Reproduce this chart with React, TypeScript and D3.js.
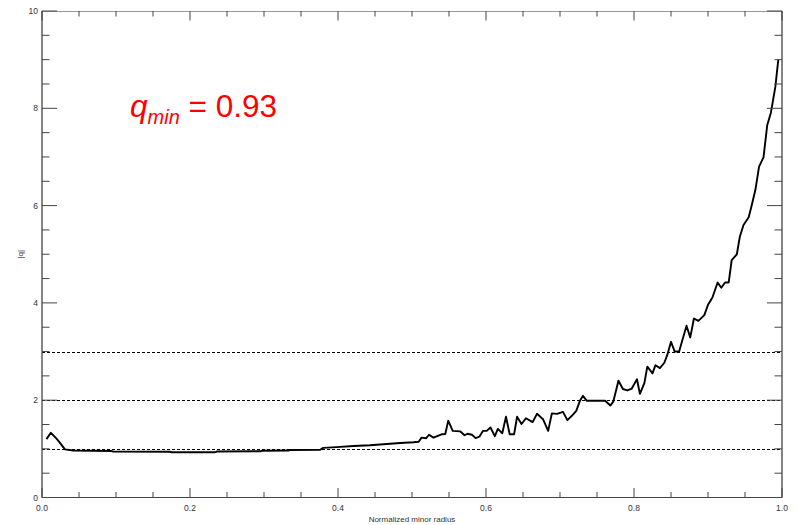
import React from "react";
import * as d3 from "d3";

// Safety factor profile |q| against normalized minor radius
const radius: number[] = [
  0.006, 0.012, 0.019, 0.023, 0.031, 0.042, 0.094, 0.096, 0.173, 0.175,
  0.234, 0.236, 0.295, 0.297, 0.333, 0.335, 0.376, 0.38, 0.398, 0.421,
  0.443, 0.466, 0.484, 0.502, 0.509, 0.513, 0.519, 0.523, 0.529, 0.54,
  0.545, 0.549, 0.555, 0.565, 0.571, 0.575, 0.581, 0.586, 0.591, 0.596,
  0.601, 0.606, 0.612, 0.616, 0.622, 0.627, 0.632, 0.638, 0.642, 0.648,
  0.654, 0.663, 0.669, 0.677, 0.684, 0.689, 0.696, 0.704, 0.71, 0.716,
  0.722, 0.727, 0.731, 0.736, 0.761, 0.768, 0.772, 0.779, 0.785, 0.791,
  0.797, 0.804, 0.808, 0.814, 0.818, 0.825, 0.829, 0.835, 0.841, 0.845,
  0.85, 0.855, 0.861, 0.866, 0.871, 0.876, 0.881, 0.887, 0.895, 0.9,
  0.906, 0.913, 0.918, 0.923, 0.928, 0.932, 0.939, 0.943, 0.948, 0.955,
  0.959, 0.964, 0.969, 0.975, 0.98, 0.985, 0.991, 0.995,
];

const qValues: number[] = [
  1.2, 1.33, 1.22, 1.15, 0.99, 0.965, 0.955, 0.945, 0.94, 0.93,
  0.93, 0.945, 0.95, 0.96, 0.965, 0.975, 0.98, 1.02, 1.035, 1.06,
  1.075, 1.1, 1.12, 1.135, 1.147, 1.23, 1.217, 1.29, 1.23, 1.3,
  1.305, 1.58, 1.37, 1.36, 1.28, 1.31, 1.29, 1.22, 1.25, 1.37,
  1.37, 1.44, 1.26, 1.41, 1.32, 1.66, 1.3, 1.3, 1.66, 1.51,
  1.63, 1.55, 1.72, 1.61, 1.37, 1.73, 1.72, 1.76, 1.59, 1.68,
  1.78, 1.99, 2.09, 1.99, 1.99, 1.89, 1.97, 2.4, 2.23, 2.2,
  2.24, 2.43, 2.13, 2.35, 2.69, 2.55, 2.72, 2.66, 2.77, 2.93,
  3.2, 3.0, 3.0, 3.27, 3.53, 3.29, 3.68, 3.63, 3.75, 3.96,
  4.11, 4.42, 4.31, 4.42, 4.42, 4.88, 5.0, 5.36, 5.6, 5.76,
  6.0, 6.32, 6.8, 6.99, 7.65, 7.91, 8.44, 9.0,
];

const xMajorTicks: number[] = [0, 0.2, 0.4, 0.6, 0.8, 1.0];
const yMajorTicks: number[] = [0, 2, 4, 6, 8, 10];
const referenceLevels: number[] = [1, 2, 3];

const width = 796;
const height = 525;
const left = 42;
const right = 782;
const top = 11;
const bottom = 497.5;

export default function App() {
  const x = d3.scaleLinear().domain([0, 1]).range([left, right]);
  const y = d3.scaleLinear().domain([0, 10]).range([bottom, top]);

  const points: [number, number][] = radius.map((r, i) => [r, qValues[i]]);
  const line = d3
    .line<[number, number]>()
    .x((d) => x(d[0]))
    .y((d) => y(d[1]));

  const xMinor = d3.range(0, 1.0001, 0.05);
  const yMinor = d3.range(0, 10.0001, 0.5);
  const isMajorX = (v: number) => Math.abs(v / 0.2 - Math.round(v / 0.2)) < 1e-6;
  const isMajorY = (v: number) => Math.abs(v / 2 - Math.round(v / 2)) < 1e-6;

  const axisColor = "#444";
  const labelFont = "'Liberation Sans', Arial, sans-serif";

  return (
    <svg
      width={width}
      height={height}
      style={{ position: "absolute", left: 0, top: 0, background: "#fff" }}
    >
      <rect x={0} y={0} width={width} height={height} fill="#fff" />

      {/* reference levels q = 1, 2, 3 */}
      {referenceLevels.map((lv) => (
        <line
          key={`ref-${lv}`}
          x1={left}
          x2={right}
          y1={Math.round(y(lv)) + 0.5}
          y2={Math.round(y(lv)) + 0.5}
          stroke="#000"
          strokeWidth={1}
          strokeDasharray="3,2"
        />
      ))}

      {/* q profile */}
      <path
        d={line(points) ?? ""}
        fill="none"
        stroke="#000"
        strokeWidth={1.9}
        strokeLinejoin="round"
      />

      {/* frame */}
      <line x1={left} x2={right} y1={top + 0.5} y2={top + 0.5} stroke="#999" strokeWidth={1.2} />
      <line x1={left} x2={right} y1={bottom} y2={bottom} stroke={axisColor} strokeWidth={1.2} />
      <line x1={left} x2={left} y1={top} y2={bottom} stroke={axisColor} strokeWidth={1.3} />
      <line x1={right} x2={right} y1={top} y2={bottom} stroke={axisColor} strokeWidth={1.3} />

      {/* x ticks, bottom and top */}
      {xMinor.map((v) => {
        const len = isMajorX(v) ? 9.5 : 5.5;
        const px = x(v);
        return (
          <g key={`xt-${v}`}>
            <line x1={px} x2={px} y1={bottom} y2={bottom - len} stroke={axisColor} strokeWidth={1} />
            <line x1={px} x2={px} y1={top} y2={top + len} stroke={axisColor} strokeWidth={1} />
          </g>
        );
      })}

      {/* y ticks, left and right */}
      {yMinor.map((v) => {
        const len = isMajorY(v) ? 15 : 7.5;
        const py = y(v);
        return (
          <g key={`yt-${v}`}>
            <line x1={left} x2={left + len} y1={py} y2={py} stroke={axisColor} strokeWidth={1} />
            <line x1={right} x2={right - len} y1={py} y2={py} stroke={axisColor} strokeWidth={1} />
          </g>
        );
      })}

      {/* tick labels */}
      {xMajorTicks.map((v) => (
        <text
          key={`xl-${v}`}
          x={x(v)}
          y={bottom + 13}
          textAnchor="middle"
          fontFamily={labelFont}
          fontSize={8.5}
          fill="#333"
        >
          {v.toFixed(1)}
        </text>
      ))}
      {yMajorTicks.map((v) => (
        <text
          key={`yl-${v}`}
          x={left - 4}
          y={y(v) + 3}
          textAnchor="end"
          fontFamily={labelFont}
          fontSize={8.5}
          fill="#333"
        >
          {v}
        </text>
      ))}

      {/* axis titles */}
      <text
        x={(left + right) / 2}
        y={522}
        textAnchor="middle"
        fontFamily={labelFont}
        fontSize={8}
        fill="#333"
      >
        Normalized minor radius
      </text>
      <text
        transform={`translate(23, ${(top + bottom) / 2}) rotate(-90)`}
        textAnchor="middle"
        fontFamily={labelFont}
        fontSize={8}
        fill="#333"
      >
        |q|
      </text>

      {/* minimum q annotation */}
      <text x={130} y={117} fontFamily={labelFont} fontSize={31.5} fill="#ff0000">
        <tspan fontStyle="italic">q</tspan>
        <tspan fontStyle="italic" fontSize={20} dy={7}>min</tspan>
        <tspan dy={-7}> = 0.93</tspan>
      </text>
    </svg>
  );
}
